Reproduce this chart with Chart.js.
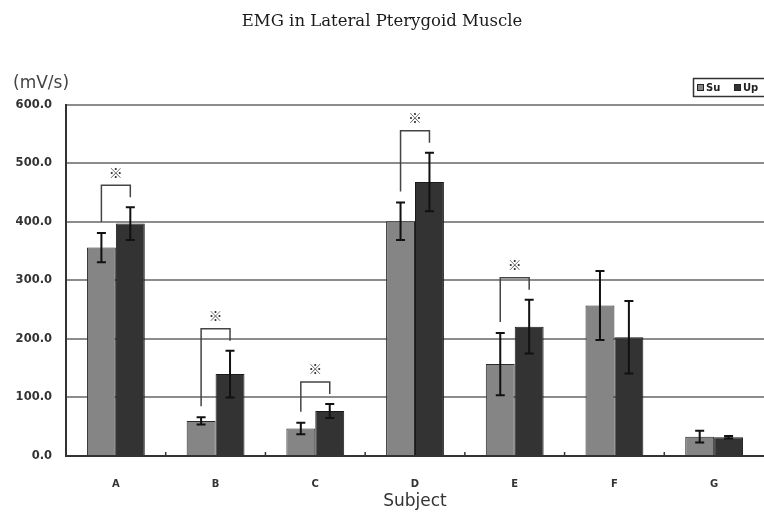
<!DOCTYPE html>
<html>
<head>
<meta charset="utf-8">
<script src="https://cdn.jsdelivr.net/npm/chart.js@4.4.0/dist/chart.umd.min.js"></script>
<style>
  html, body { margin: 0; padding: 0; background: #fff; }
</style>
</head>
<body>
<canvas id="emgChart" width="764" height="516"></canvas>
<script>
const subjects = ['A', 'B', 'C', 'D', 'E', 'F', 'G'];
const suValues = [356, 60, 47, 401, 157, 257, 33];
const upValues = [397, 140, 77, 468, 221, 203, 32];
const suErrors = [25, 6, 10, 32, 53, 59, 10];
const upErrors = [28, 40, 12, 50, 46, 62, 2];
const yTicks = [0, 100, 200, 300, 400, 500, 600];
const sigSubjects = ['A', 'B', 'C', 'D', 'E']; // marked with a bracket

const labelFont = "'DejaVu Sans', sans-serif";

// error bars, brackets, unit label, legend box
const extras = {
  id: 'extras',
  afterDatasetsDraw(chart) {
    const ctx = chart.ctx;
    const y = chart.scales.y;
    const x = chart.scales.x;
    const su = chart.getDatasetMeta(0).data;
    const up = chart.getDatasetMeta(1).data;

    ctx.save();
    // small ticks between categories
    ctx.strokeStyle = '#333';
    ctx.lineWidth = 1.5;
    for (let i = 0; i < subjects.length - 1; i++) {
      const px = (x.getPixelForTick(i) + x.getPixelForTick(i + 1)) / 2;
      ctx.beginPath();
      ctx.moveTo(px, chart.chartArea.bottom);
      ctx.lineTo(px, chart.chartArea.bottom - 4);
      ctx.stroke();
    }

    // error bars
    ctx.strokeStyle = '#111';
    ctx.lineWidth = 2;
    const drawErr = (bar, v, e) => {
      const top = y.getPixelForValue(v + e);
      const bot = y.getPixelForValue(v - e);
      ctx.beginPath();
      ctx.moveTo(bar.x, top); ctx.lineTo(bar.x, bot);
      ctx.moveTo(bar.x - 4.5, top); ctx.lineTo(bar.x + 4.5, top);
      ctx.moveTo(bar.x - 4.5, bot); ctx.lineTo(bar.x + 4.5, bot);
      ctx.stroke();
    };
    subjects.forEach((s, i) => {
      drawErr(su[i], suValues[i], suErrors[i]);
      drawErr(up[i], upValues[i], upErrors[i]);
    });

    // significance brackets
    ctx.strokeStyle = '#444';
    ctx.lineWidth = 1.5;
    ctx.fillStyle = '#333';
    ctx.font = "bold 14px 'Noto Sans CJK JP', sans-serif";
    ctx.textAlign = 'center';
    ctx.textBaseline = 'middle';
    sigSubjects.forEach(s => {
      const i = subjects.indexOf(s);
      const l = y.getPixelForValue(suValues[i] + suErrors[i]) - 11;
      const r = y.getPixelForValue(upValues[i] + upErrors[i]) - 10;
      const top = Math.min(l, r) - 12;
      ctx.beginPath();
      ctx.moveTo(su[i].x, l);
      ctx.lineTo(su[i].x, top);
      ctx.lineTo(up[i].x, top);
      ctx.lineTo(up[i].x, r);
      ctx.stroke();
      ctx.fillText('※', (su[i].x + up[i].x) / 2, top - 13);
    });

    // unit label
    ctx.fillStyle = '#444';
    ctx.textAlign = 'left';
    ctx.font = '17px ' + labelFont;
    ctx.fillText('(mV/s)', 13, 84);

    // legend
    ctx.strokeStyle = '#333';
    ctx.lineWidth = 1.5;
    ctx.strokeRect(693.5, 78.5, 72, 18);
    ctx.font = 'bold 10px ' + labelFont;
    let lx = 697;
    chart.data.datasets.forEach(ds => {
      ctx.fillStyle = ds.backgroundColor;
      ctx.fillRect(lx, 84, 7, 7);
      ctx.strokeStyle = '#222';
      ctx.lineWidth = 1;
      ctx.strokeRect(lx + 0.5, 84.5, 6, 6);
      ctx.fillStyle = '#222';
      ctx.fillText(ds.label, lx + 9, 88);
      lx += 37;
    });
    ctx.restore();
  }
};

new Chart(document.getElementById('emgChart'), {
  type: 'bar',
  data: {
    labels: subjects,
    datasets: [{
      label: 'Su',
      data: suValues,
      backgroundColor: '#858585',
      borderColor: '#2a2a2a',
      borderWidth: 1
    }, {
      label: 'Up',
      data: upValues,
      backgroundColor: '#333333',
      borderColor: '#1a1a1a',
      borderWidth: 1
    }]
  },
  options: {
    responsive: false,
    animation: false,
    categoryPercentage: 0.58,
    barPercentage: 1,
    layout: { padding: { left: 0, right: 0, top: 0, bottom: 0 } },
    plugins: {
      legend: { display: false },
      tooltip: { enabled: false },
      title: {
        display: true,
        text: 'EMG in Lateral Pterygoid Muscle',
        color: '#1a1a1a',
        font: { family: "'DejaVu Serif', 'Liberation Serif', serif", size: 16.5, weight: 'normal' },
        padding: { top: 12, bottom: 73 }
      }
    },
    scales: {
      x: {
        grid: { display: false },
        border: { color: '#333', width: 2 },
        ticks: { color: '#333', font: { family: labelFont, size: 10, weight: 'bold' }, padding: 14 },
        title: {
          display: true,
          text: 'Subject',
          color: '#333',
          font: { family: labelFont, size: 17 },
          padding: { top: 0, bottom: 4 }
        },
        afterFit: s => { s.height = 60; }
      },
      y: {
        min: 0,
        max: 600,
        afterBuildTicks: s => { s.ticks = yTicks.map(v => ({ value: v })); },
        ticks: {
          color: '#333',
          font: { family: labelFont, size: 11.5, weight: 'bold' },
          padding: 14,
          callback: v => v.toFixed(1)
        },
        grid: { color: '#8c8c8c', lineWidth: 2, drawTicks: false },
        border: { color: '#333', width: 2 },
        afterFit: s => { s.width = 66; }
      }
    }
  },
  plugins: [extras]
});
</script>
</body>
</html>
